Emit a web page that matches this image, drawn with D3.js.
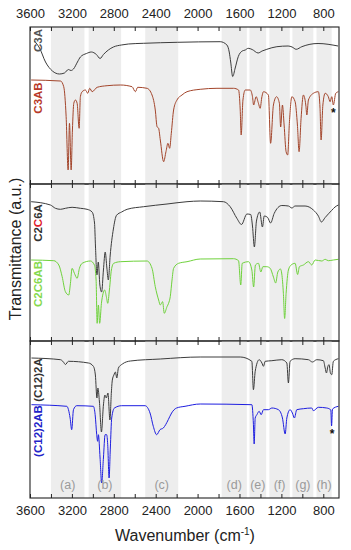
<!DOCTYPE html>
<html><head><meta charset="utf-8">
<script src="https://cdn.jsdelivr.net/npm/d3@7"></script>
<style>body{margin:0;background:#fff}text{font-family:Arial,"Liberation Sans",sans-serif}</style>
</head><body><svg id="c" width="351" height="550"></svg>
<script>
// ---- data ----
const majorTicks = [3600,3200,2800,2400,2000,1600,1200,800];
const minorTicks = [3400,3000,2600,2200,1800,1400,1000];
const bandLabels = ["(a)","(b)","(c)","(d)","(e)","(f)","(g)","(h)"];
const bandFrom = [3400,3040,2500,1770,1505,1315,1095,865];
const bandTo   = [3080,2730,2185,1530,1345,1120,895,720];
const seriesNames = ["C3A","C3AB","C2C6A","C2C6AB","(C12)2A","(C12)2AB"];

const c3a = [[3560,143],[3509,136],[3452,122],[3386,113],[3319,110],[3271,111],[3233,114.5],[3209,113.5],[3185,115],[3147,122],[3119,127],[3061,130.5],[3014,132],[2966,129.5],[2931,125.5],[2899,129.5],[2852,134],[2804,137],[2728,139],[2661,140],[2518,140.7],[2194,141.7],[1784,142.3],[1720,139],[1698,132],[1684,122],[1665,107.5],[1641,116],[1612,127.3],[1574,133],[1545,134],[1517,135.7],[1479,134.5],[1422,131],[1384,133],[1339,134.7],[1243,137.3],[1136,138],[1098,137],[1059,134.7],[1005,137.3],[850,140.5],[659,138]];

const c3ab = [[3589,104],[3309,103],[3278,97.3],[3255,67.3],[3236,14],[3223,60.7],[3207,14],[3195,54],[3182,80.7],[3166,84],[3150,80.7],[3131,55.7],[3119,87.3],[3102,92.3],[3071,94],[3049,90.7],[3030,95.7],[3007,92.3],[2959,96.7],[2864,98.3],[2737,99],[2626,97.3],[2594,92.3],[2572,96.7],[2483,95.7],[2435,89],[2404,74],[2387,57.3],[2372,55.7],[2356,44],[2324,22.3],[2302,32.3],[2283,40.7],[2267,35.7],[2251,50.7],[2229,74],[2197,84],[2149,89],[2101,92.3],[1975,94.7],[1815,95.7],[1657,95.7],[1609,94],[1593,74],[1584,49],[1567,84],[1545,94],[1498,94],[1476,87.3],[1465,79],[1441,87.3],[1419,80.7],[1403,75.7],[1386,87.3],[1371,92.3],[1324,89],[1303,40.7],[1276,79],[1246,87.3],[1219,80.7],[1207,57],[1190,79],[1174,59],[1155,32.3],[1140,29],[1123,62.3],[1100,87.3],[1069,82.3],[1047,59],[1031,32.3],[1012,65.7],[990,89],[967,79],[957,69],[942,84],[895,90.7],[847,92.3],[831,75.7],[821,44],[804,79],[782,90.7],[752,87.3],[735,82.3],[719,87.3],[704,79],[681,90.7],[656,92.3]];

const c2c6a = [[3589,139.3],[3405,136],[3357,132.7],[3309,131.7],[3262,132.7],[3198,133.7],[3119,132.7],[3055,131.7],[3007,129],[2984,118],[2975,95],[2961,66],[2948,79],[2933,56],[2916,49],[2899,71],[2882,89],[2866,73],[2852,61],[2835,85],[2804,112],[2774,125.7],[2725,129],[2673,131.7],[2515,134.3],[2292,137],[2101,139.3],[1975,140],[1753,139.3],[1689,134.3],[1625,122.7],[1581,116.5],[1529,127],[1493,126.5],[1476,115],[1458,94],[1438,120],[1407,129],[1381,114],[1364,125],[1331,123.5],[1303,118],[1269,127.5],[1196,135.5],[1133,135],[1100,133],[1069,135],[974,135],[895,131],[847,125],[818,119],[782,123.5],[719,130.7],[688,134],[656,136]];

const c2c6ab = [[3589,81],[3373,80.3],[3325,76],[3293,64.3],[3262,49.3],[3230,46],[3214,57.7],[3198,72.7],[3176,67.7],[3150,62.7],[3128,72.7],[3102,77.7],[3023,80],[2985,76],[2969,61],[2959,17.7],[2947,36],[2935,17.7],[2918,37.7],[2902,47.7],[2887,51],[2871,44.3],[2858,37.7],[2842,51],[2823,71],[2801,77.7],[2737,79.3],[2483,80],[2435,72.7],[2404,54.3],[2372,41],[2356,36],[2334,39.3],[2318,27.7],[2292,34.3],[2277,37.7],[2261,44.3],[2244,61],[2229,72.7],[2181,77.7],[2101,79.3],[1975,82],[1657,82.3],[1609,80.3],[1588,56],[1574,77.7],[1514,79.3],[1482,71],[1465,54],[1448,76],[1419,77.7],[1396,69],[1377,74.3],[1339,74.3],[1307,72.7],[1276,64],[1255,58],[1234,69],[1209,72],[1196,67],[1181,47.7],[1169,22.5],[1155,47.7],[1133,71],[1107,76],[1069,77.7],[1045,66.5],[1028,74.3],[990,76],[942,79.3],[910,76],[878,81],[814,80],[782,81.7],[752,80.3],[704,81],[656,81.7]];

const c12a = [[3586,140],[3309,138.3],[3281,136],[3262,133.5],[3233,136.7],[3042,135],[2995,131.7],[2976,123],[2961,100],[2952,110],[2937,96],[2918,66],[2899,93],[2885,103],[2871,100],[2856,105],[2837,78],[2823,106],[2814,118],[2799,123],[2785,126],[2771,120],[2756,130],[2718,134],[2642,137],[2356,139],[1975,141],[1593,141],[1482,136.7],[1467,108.3],[1450,126.7],[1412,138.3],[1386,135],[1371,131.7],[1355,136.7],[1291,137.3],[1196,138.3],[1148,135],[1133,115],[1117,136.7],[1069,139.3],[942,138.3],[904,136],[862,138.3],[799,137.3],[782,130],[770,125],[756,131.7],[745,133.3],[732,125],[719,123.3],[704,136.7],[656,139.3]];

const c12ab = [[3586,93.3],[3249,91.7],[3217,80],[3202,68.3],[3185,88.3],[3154,92.3],[2995,91.7],[2978,83.3],[2963,63.3],[2954,56.7],[2947,63.3],[2931,40],[2916,15],[2899,40],[2883,63.3],[2868,63.3],[2858,53.3],[2845,20],[2833,50],[2820,80],[2794,90],[2725,92.3],[2502,92.3],[2454,85],[2423,71.7],[2391,63.3],[2359,68.3],[2327,70],[2305,73.3],[2280,78.3],[2248,85],[2201,90],[2120,91.7],[1975,94],[1482,93.3],[1467,73.3],[1460,54],[1450,80],[1434,83.3],[1412,86.7],[1393,83.3],[1371,88.3],[1324,88.3],[1291,90],[1228,88.3],[1190,80],[1164,64],[1148,80],[1117,88.3],[1095,85],[1076,80],[1053,88.3],[990,89.3],[910,90],[895,87.3],[847,90.7],[767,90],[728,88],[721,72],[712,89],[656,91.7]];

const starMarks = [[0,704,74],[2,715,67]]; // [panel, wavenumber, value]

// ---- drawing ----
const svg = d3.select("#c");
const L = 30, R = 339, PH = 157;
const tops = [27, 184, 341];
const x = d3.scaleLinear().domain([3600, 650]).range([L, R]);
const allTicks = majorTicks.concat(minorTicks);

const panels = [
  {s:[{d:c3a,c:"#3c3c3c"},{d:c3ab,c:"#a3452b"}],
   labels:[{t:[["C3A","#555"]],y:40.5},{t:[["C3AB","#b8392a"]],y:98}]},
  {s:[{d:c2c6a,c:"#3c3c3c"},{d:c2c6ab,c:"#6fd23c"}],
   labels:[{t:[["C2","#333"],["C","#e0202a"],["6A","#333"]],y:223},{t:[["C2C6AB","#86d94e"]],y:284}]},
  {s:[{d:c12a,c:"#3c3c3c"},{d:c12ab,c:"#1e1ee0"}],
   labels:[{t:[["(C12)2A","#333"]],y:380},{t:[["(C12)2AB","#2323c8"]],y:431}]}
];

panels.forEach((p, i) => {
  const top = tops[i];
  const y = d3.scaleLinear().domain([0, PH]).range([top + PH, top]);
  const g = svg.append("g");
  // bands
  g.selectAll("rect.band").data(bandFrom).join("rect")
    .attr("x", (d, k) => x(d)).attr("width", (d, k) => x(bandTo[k]) - x(d))
    .attr("y", top).attr("height", PH).attr("fill", "#ededed");
  // spectra
  const line = d3.line().x(d => x(d[0])).y(d => y(d[1])).curve(d3.curveMonotoneX);
  p.s.forEach(s => {
    g.append("path").attr("d", line(s.d)).attr("fill", "none")
      .attr("stroke", s.c).attr("stroke-width", 1).attr("stroke-linejoin", "round");
  });
  // frame
  g.append("rect").attr("x", L).attr("y", top).attr("width", R - L).attr("height", PH)
    .attr("fill", "none").attr("stroke", "#222").attr("stroke-width", 1.1);
  // ticks
  const topAx = d3.axisTop(x).tickValues(allTicks).tickSize(-4).tickPadding(9)
    .tickFormat(d => (i === 0 && majorTicks.includes(d)) ? String(d) : "");
  const botAx = d3.axisBottom(x).tickValues(allTicks).tickSize(-4).tickPadding(8)
    .tickFormat(d => (i === 2 && majorTicks.includes(d)) ? String(d) : "");
  [[topAx, top], [botAx, top + PH]].forEach(([ax, yy]) => {
    const a = g.append("g").attr("transform", `translate(0,${yy})`).call(ax);
    a.select(".domain").remove();
    a.selectAll(".tick line").attr("stroke", "#222");
    a.selectAll("text").attr("font-size", 13).attr("fill", "#222")
      .style("font-family", "Arial, 'Liberation Sans', sans-serif");
  });
  // band labels in last panel
  if (i === 2) {
    g.selectAll("text.bl").data(bandLabels).join("text")
      .attr("x", (d, k) => (x(bandFrom[k]) + x(bandTo[k])) / 2)
      .attr("y", top + PH - 9).attr("text-anchor", "middle")
      .attr("font-size", 12.5).attr("fill", "#9a9a9a").text(d => d);
  }
  // sample labels
  p.labels.forEach(lb => {
    const t = g.append("text").attr("transform", `translate(42,${lb.y}) rotate(-90)`)
      .attr("text-anchor", "middle").attr("font-size", 11.5).attr("font-weight", "bold");
    lb.t.forEach(([txt, col]) => t.append("tspan").attr("fill", col).text(txt));
  });
  // star marks
  starMarks.filter(m => m[0] === i).forEach(m => {
    g.append("text").attr("x", x(m[1])).attr("y", y(m[2]) + 7)
      .attr("text-anchor", "middle").attr("font-size", 12).attr("font-weight", "bold")
      .attr("fill", "#111").text("*");
  });
});

// axis titles
const xt = svg.append("text").attr("x", 185).attr("y", 541).attr("text-anchor", "middle")
  .attr("font-size", 16).attr("fill", "#222");
xt.append("tspan").text("Wavenumber (cm");
xt.append("tspan").attr("font-size", 10).attr("dy", -6).text("-1");
xt.append("tspan").attr("dy", 6).text(")");

svg.append("text").attr("transform", "translate(21,249) rotate(-90)")
  .attr("text-anchor", "middle").attr("font-size", 16).attr("fill", "#222")
  .text("Transmittance (a.u.)");
</script></body></html>
